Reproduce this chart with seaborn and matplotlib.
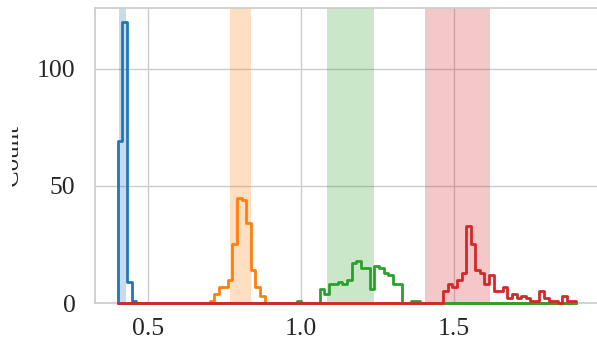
import numpy as np
import pandas as pd
import matplotlib
matplotlib.use('Agg')
import matplotlib.pyplot as plt
import seaborn as sns
from matplotlib.transforms import Bbox, TransformedBbox

# 공통 bin (0.40 ~ 1.90, 100개)
bin_lo = 0.40
bin_hi = 1.90
n_bins = 100

# 그룹별 값 (시작 bin 번호, bin별 개수)
blue_start = 0
blue_counts = [69, 120, 9, 1]

orange_start = 20
orange_counts = [1, 4, 7, 7, 10, 25, 45, 44, 34, 14, 7, 3]

green_start = 39
green_counts = [1, 0, 0, 0, 0, 6, 4, 8, 8, 9, 8, 10, 17, 18, 15, 15, 6, 16, 15,
                13, 12, 8, 8, 0, 0, 1, 1]

red_start = 71
red_counts = [5, 8, 7, 10, 13, 33, 25, 14, 13, 8, 12, 5, 5, 7, 2, 4, 2, 3, 2,
              1, 1, 5, 2, 1, 1, 0, 3, 1, 1]

# 음영 구간
spans = [(0.403, 0.425), (0.766, 0.837), (1.084, 1.237), (1.405, 1.618)]
colors = ['tab:blue', 'tab:orange', 'tab:green', 'tab:red']

sns.set_theme(style='whitegrid')
plt.rcParams['font.family'] = ['Liberation Serif', 'DejaVu Serif']
plt.rcParams['font.size'] = 18

edges = np.linspace(bin_lo, bin_hi, n_bins + 1)
centers = (edges[:-1] + edges[1:]) / 2


def full_counts(start, counts):
    arr = np.zeros(n_bins)
    arr[start:start + len(counts)] = counts
    return arr


groups = [(blue_start, blue_counts), (orange_start, orange_counts),
          (green_start, green_counts), (red_start, red_counts)]

fig = plt.figure(figsize=(5.97, 3.44), dpi=100)
ax = fig.add_axes([95 / 597, 41 / 344, 504 / 597, 295 / 344])

for (lo, hi), c in zip(spans, colors):
    ax.axvspan(lo, hi, color=c, alpha=0.25, lw=0)

# step 윤곽선; 파랑은 왼쪽 세로선이 보이도록 닫힌 윤곽 (면은 투명)
for i, ((start, counts), c) in enumerate(zip(groups, colors)):
    df = pd.DataFrame({'x': centers, 'w': full_counts(start, counts)})
    extra = {'facecolor': 'none'} if i == 0 else {}
    sns.histplot(data=df, x='x', weights='w', bins=n_bins,
                 binrange=(bin_lo, bin_hi), element='step',
                 fill=(i == 0), color=c, linewidth=2.0,
                 zorder=3, clip_on=False, ax=ax, **extra)

ax.set_xticks([0.5, 1.0, 1.5])
ax.set_yticks([0, 50, 100])
ax.set_xlabel('')
ax.set_ylabel('Count', fontsize=18, labelpad=10)
ax.tick_params(axis='x', labelsize=18.5, pad=11, length=0)
ax.tick_params(axis='y', labelsize=18.5, pad=14, length=0)
for sp in ax.spines.values():
    sp.set_color('0.8')

# 원본처럼 y 라벨 왼쪽 부분이 잘리도록
ylab = ax.yaxis.label
ylab.set_clip_box(TransformedBbox(Bbox([[12 / 597, 0], [1, 1]]), fig.transFigure))
ylab.set_clip_on(True)

plt.savefig('out.png', dpi=100)
